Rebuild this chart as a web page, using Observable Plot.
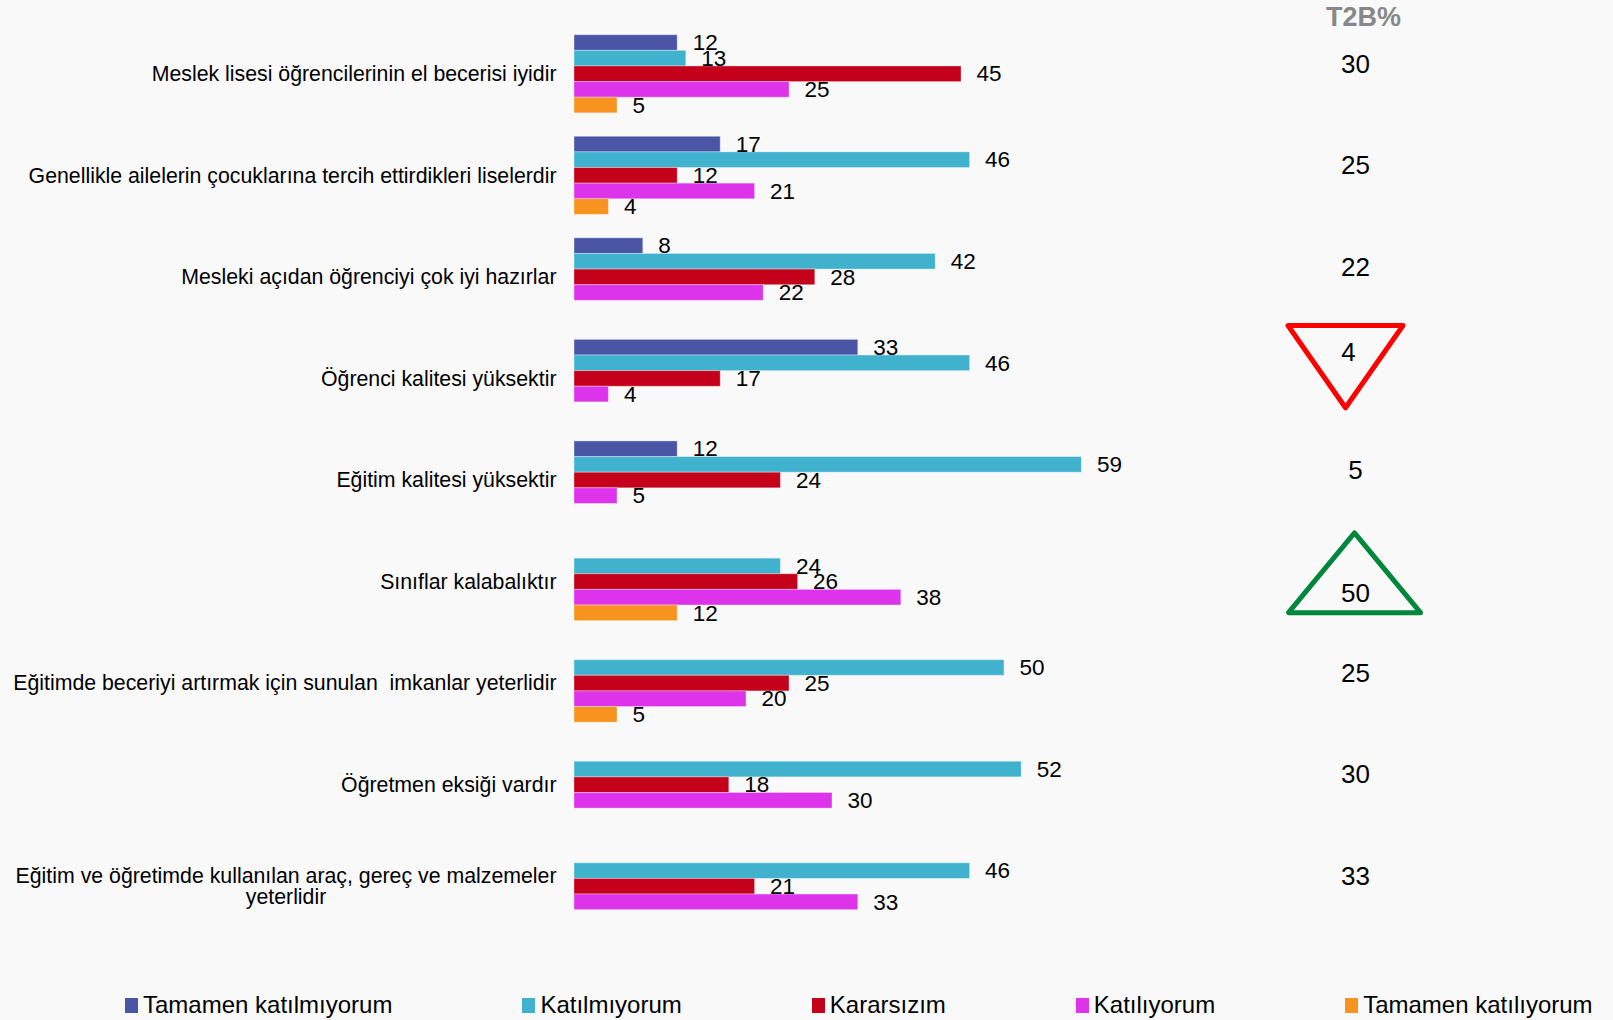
<!DOCTYPE html>
<html>
<head>
<meta charset="utf-8">
<script src="https://cdn.jsdelivr.net/npm/d3@7"></script>
<script src="https://cdn.jsdelivr.net/npm/@observablehq/plot@0.6"></script>
<style>
  html, body { margin: 0; padding: 0; background: #f9f9f9; }
  #chart { width: 1613px; }
  svg text { white-space: pre; }
  .legend { display: flex; align-items: center; height: 30px; padding-top: 15px; padding-left: 125px; font-family: "Liberation Sans", Arial, sans-serif; font-size: 24px; color: #000; white-space: nowrap; }
  .legend .item { display: flex; align-items: center; flex-shrink: 0; margin-right: 130px; }
  .legend .sw { width: 13px; height: 15px; margin-right: 5px; flex-shrink: 0; }
</style>
</head>
<body>
<div id="chart"></div>
<script>
const categories = [
  "Meslek lisesi öğrencilerinin el becerisi iyidir",
  "Genellikle ailelerin çocuklarına tercih ettirdikleri liselerdir",
  "Mesleki açıdan öğrenciyi çok iyi hazırlar",
  "Öğrenci kalitesi yüksektir",
  "Eğitim kalitesi yüksektir",
  "Sınıflar kalabalıktır",
  "Eğitimde beceriyi artırmak için sunulan  imkanlar yeterlidir",
  "Öğretmen eksiği vardır",
  "Eğitim ve öğretimde kullanılan araç, gereç ve malzemeler\nyeterlidir"
];
const series = ["Tamamen katılmıyorum", "Katılmıyorum", "Kararsızım", "Katılıyorum", "Tamamen katılıyorum"];
const colors = ["#4A55A5", "#40B2CE", "#C4001A", "#DD33EB", "#F7931E"];

const tamamenKatilmiyorum = [12, 17, 8, 33, 12, 0, 0, 0, 0];
const katilmiyorum        = [13, 46, 42, 46, 59, 24, 50, 52, 46];
const kararsizim          = [45, 12, 28, 17, 24, 26, 25, 18, 21];
const katiliyorum         = [25, 21, 22, 4, 5, 38, 20, 30, 33];
const tamamenKatiliyorum  = [5, 4, 0, 0, 0, 12, 5, 0, 0];
const t2b                 = [30, 25, 22, 4, 5, 50, 25, 30, 33];
const t2bTitle = "T2B%";
const lowMarked  = ["Öğrenci kalitesi yüksektir"];
const highMarked = ["Sınıflar kalabalıktır"];

const seriesValues = [tamamenKatilmiyorum, katilmiyorum, kararsizim, katiliyorum, tamamenKatiliyorum];
const rows = categories.flatMap((c, i) => series.map((s, j) => ({category: c, series: s, value: seriesValues[j][i]})));
const barRows = rows.filter(d => d.value > 0);
const t2bRows = categories.map((c, i) => ({category: c, t2b: t2b[i]}));
const plainT2b = t2bRows.filter(d => !lowMarked.includes(d.category) && !highMarked.includes(d.category));
const lowT2b = t2bRows.filter(d => lowMarked.includes(d.category));
const highT2b = t2bRows.filter(d => highMarked.includes(d.category));

function triangle(direction, aspect) {
  return {
    draw(context, size) {
      const r = Math.sqrt(size / Math.PI);
      const h = r * aspect;
      if (direction === "down") {
        context.moveTo(-r, -h / 3);
        context.lineTo(r, -h / 3);
        context.lineTo(0, 2 * h / 3);
      } else {
        context.moveTo(-r, h / 3);
        context.lineTo(r, h / 3);
        context.lineTo(0, -2 * h / 3);
      }
      context.closePath();
    }
  };
}

const t2bText = {fy: "category", text: d => String(d.t2b), frameAnchor: "right", dx: 265, textAnchor: "middle", fontSize: 26, fill: "#000"};

const chart = Plot.plot({
  width: 1613,
  height: 975,
  marginLeft: 574,
  marginRight: 523,
  marginTop: 23,
  marginBottom: 38,
  style: {background: "#f9f9f9", fontFamily: "'Liberation Sans', Arial, sans-serif", fontSize: "21.3px", color: "#000"},
  x: {domain: [0, 60], axis: null},
  y: {domain: series, axis: null, paddingInner: 0, paddingOuter: 0.75, round: false},
  fy: {domain: categories, padding: 0, round: false, label: null, axis: "left", tickSize: 0, tickPadding: 18},
  color: {domain: series, range: colors},
  marks: [
    Plot.barX(barRows, {fy: "category", y: "series", x: "value", fill: "series", stroke: "#ffffff", strokeOpacity: 0.35, strokeWidth: 1}),
    Plot.text(barRows, {fy: "category", y: "series", x: "value", text: d => String(d.value), dx: 15, textAnchor: "start", fontSize: 22.5, fill: "#000"}),
    Plot.text(plainT2b, {...t2bText, dy: -10}),
    Plot.text(lowT2b, {...t2bText, dx: 258, dy: -26}),
    Plot.text(highT2b, {...t2bText, dy: 12}),
    Plot.text([t2bTitle], {fy: () => categories[0], text: d => d, frameAnchor: "top-right", dx: 273, dy: -6, lineAnchor: "middle", textAnchor: "middle", fontSize: 27, fontWeight: "bold", fill: "#888888"}),
    Plot.dot(lowMarked, {fy: d => d, frameAnchor: "right", dx: 255, dy: -26, r: 57.5, symbol: triangle("down", 1.43), fill: "none", stroke: "#FF0000", strokeWidth: 5, strokeLinejoin: "round"}),
    Plot.dot(highMarked, {fy: d => d, frameAnchor: "right", dx: 264, dy: 4, r: 66, symbol: triangle("up", 1.21), fill: "none", stroke: "#00873C", strokeWidth: 5, strokeLinejoin: "round"})
  ]
});

document.getElementById("chart").appendChild(chart);

// center multi-line category labels (second line centered under first)
chart.querySelectorAll("text").forEach(t => {
  const spans = t.querySelectorAll("tspan");
  if (spans.length > 1 && categories.some(c => c.includes("\n") && c.startsWith(spans[0].textContent))) {
    const w = t.getBBox().width;
    t.setAttribute("text-anchor", "middle");
    t.setAttribute("transform", (t.getAttribute("transform") || "") + ` translate(${-w / 2},0)`);
  }
});

const legend = document.createElement("div");
legend.className = "legend";
series.forEach((s, i) => {
  const item = document.createElement("div");
  item.className = "item";
  const sw = document.createElement("span");
  sw.className = "sw";
  sw.style.background = colors[i];
  const label = document.createElement("span");
  label.textContent = s;
  item.appendChild(sw);
  item.appendChild(label);
  legend.appendChild(item);
});
document.getElementById("chart").appendChild(legend);
</script>
</body>
</html>
